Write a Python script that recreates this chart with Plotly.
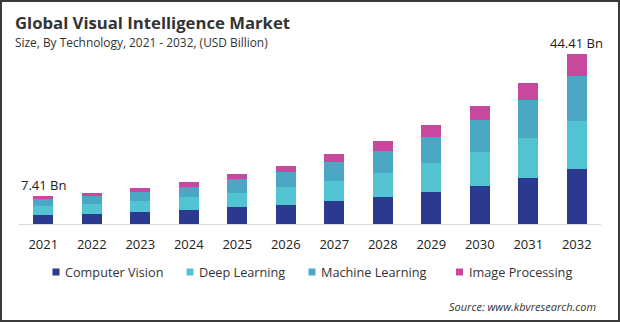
import plotly.graph_objects as go

years = ["2021", "2022", "2023", "2024", "2025", "2026", "2027", "2028", "2029", "2030", "2031", "2032"]
computer_vision = [2.38, 2.69, 3.21, 3.66, 4.44, 5.04, 6.01, 7.05, 8.36, 9.92, 12.01, 14.38]
deep_learning = [2.20, 2.53, 2.79, 3.47, 3.73, 4.70, 5.22, 6.34, 7.65, 8.96, 10.52, 12.61]
machine_learning = [1.95, 2.09, 2.35, 2.61, 3.58, 3.76, 4.96, 5.67, 6.71, 8.28, 9.84, 11.75]
image_processing = [0.88, 0.78, 1.04, 1.23, 1.31, 1.70, 2.17, 2.61, 3.21, 3.73, 4.52, 5.67]
series_names = ["Computer Vision", "Deep Learning", "Machine Learning", "Image Processing"]
series_colors = ["#2B3A8E", "#52C3D0", "#4AA8C5", "#C8489D"]
labelled_years = ["2021", "2032"]
labels = ["7.41 Bn", "44.41 Bn"]

FONT = "Open Sans"
W, H = 620, 322
L, R, T, B = 19, 19, 44, 98
PW, PH = W - L - R, H - T - B

def px(x):
    return (x - L) / PW

def py(y):
    return (H - B - y) / PH

fig = go.Figure()
for name, vals, col in zip(series_names, [computer_vision, deep_learning, machine_learning, image_processing], series_colors):
    fig.add_trace(go.Bar(x=years, y=vals, name=name, marker=dict(color=col, line=dict(width=0)),
                         showlegend=False, hoverinfo="x+y+name"))

totals = [a + b + c + d for a, b, c, d in zip(computer_vision, deep_learning, machine_learning, image_processing)]
annotations = []
for yr, lab in zip(labelled_years, labels):
    i = years.index(yr)
    annotations.append(dict(x=i, y=totals[i], xref="x", yref="y", text=lab, showarrow=False,
                            yanchor="middle", yshift=11, font=dict(family=FONT, size=13, color="#222222")))

annotations.append(dict(x=px(13), y=py(22), xref="paper", yref="paper", xanchor="left", yanchor="middle",
                        text="<b>Global Visual Intelligence Market</b>", showarrow=False,
                        font=dict(family=FONT, size=16.7, color="#333333")))
annotations.append(dict(x=px(13), y=py(42), xref="paper", yref="paper", xanchor="left", yanchor="middle",
                        text="Size, By Technology, 2021 - 2032, (USD Billion)", showarrow=False,
                        font=dict(family=FONT, size=11.9, color="#333333")))
annotations.append(dict(x=px(598), y=py(306), xref="paper", yref="paper", xanchor="right", yanchor="middle",
                        text="<i>Source: www.kbvresearch.com</i>", showarrow=False,
                        font=dict(family=FONT, size=11, color="#333333")))

shapes = []
leg_sq_x = [52.5, 186.5, 308.5, 456]
leg_y = 272
for name, col, sx in zip(series_names, series_colors, leg_sq_x):
    shapes.append(dict(type="rect", xref="paper", yref="paper", x0=px(sx), x1=px(sx + 7),
                       y0=py(leg_y + 3.5), y1=py(leg_y - 3.5), fillcolor=col, line=dict(width=0)))
    annotations.append(dict(x=px(sx + 10.5), y=py(leg_y), xref="paper", yref="paper", xanchor="left",
                            yanchor="middle", text=name, showarrow=False,
                            font=dict(family=FONT, size=12.7, color="#333333")))

shapes.append(dict(type="rect", xref="paper", yref="paper", x0=px(1), x1=px(619), y0=py(321), y1=py(1),
                   line=dict(color="#3A3A3A", width=2), fillcolor="rgba(0,0,0,0)", layer="above"))

fig.update_layout(
    width=W, height=H, margin=dict(l=L, r=R, t=T, b=B),
    barmode="stack", bargap=0.587,
    paper_bgcolor="white", plot_bgcolor="white",
    showlegend=False,
    annotations=annotations, shapes=shapes,
    font=dict(family=FONT, color="#222222"),
    xaxis=dict(type="category", range=[-0.5, 11.5], showgrid=False, showline=True, linecolor="#D9D9D9",
               linewidth=1, ticks="outside", ticklen=8, tickcolor="rgba(0,0,0,0)",
               tickfont=dict(family=FONT, size=13, color="#222222"), fixedrange=True),
    yaxis=dict(range=[0, 47.0], visible=False, fixedrange=True),
)

fig.write_html("out.html")
